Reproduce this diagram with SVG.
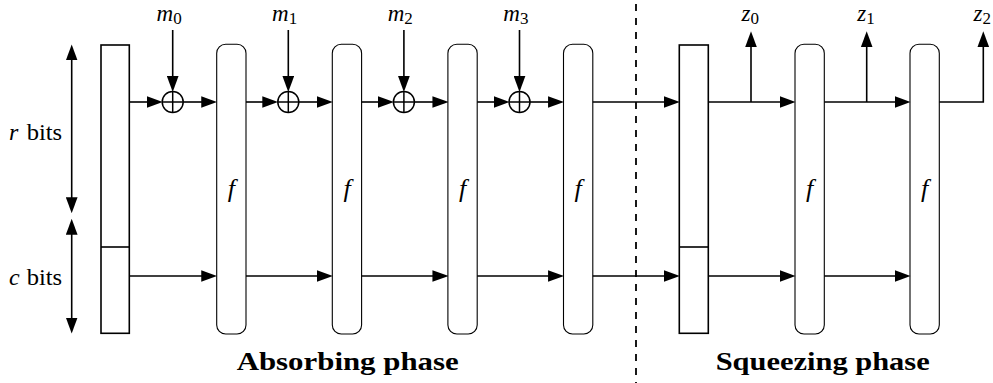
<svg xmlns="http://www.w3.org/2000/svg" width="993" height="383" viewBox="0 0 993 383">
  <style>
    .state { fill: #fff; stroke: #000; stroke-width: 1.6; }
    .perm { fill: #fff; stroke: #000; stroke-width: 1.1; }
    .wire { fill: none; stroke: #000; stroke-width: 1.6; }
    .arr { marker-end: url(#head); }
    .xor circle, .xor line { fill: none; stroke: #000; stroke-width: 1.5; }
    .divider { stroke: #000; stroke-width: 1.8; stroke-dasharray: 7 7; }
    text { font-family: "Liberation Serif", "Times New Roman", serif; fill: #000; }
    .math { font-style: italic; font-size: 23px; }
    .sub { font-style: normal; font-size: 17px; }
    .fn { font-style: italic; font-size: 26px; text-anchor: middle; }
    .side { font-size: 24px; }
    .phase { font-weight: bold; font-size: 26px; }
  </style>
  <defs>
    <marker id="head" markerUnits="userSpaceOnUse" markerWidth="16" markerHeight="12" viewBox="0 0 15 11" refX="7" refY="5.5" orient="auto-start-reverse">
      <path d="M0,0 L15,5.5 L0,11 Z" fill="#000"/>
    </marker>
  </defs>

  <!-- size braces for rate / capacity -->
  <g id="size-arrows">
    <line class="wire" x1="71.7" y1="53" x2="71.7" y2="204.7" marker-start="url(#head)" marker-end="url(#head)"/>
    <line class="wire" x1="71.7" y1="227.3" x2="71.7" y2="325" marker-start="url(#head)" marker-end="url(#head)"/>
    <text class="side" y="140"><tspan font-style="italic" x="9">r</tspan><tspan x="26.7" textLength="35.5" lengthAdjust="spacingAndGlyphs">bits</tspan></text>
    <text class="side" y="285"><tspan font-style="italic" x="9">c</tspan><tspan x="26.7" textLength="35.5" lengthAdjust="spacingAndGlyphs">bits</tspan></text>
  </g>

  <!-- initial state -->
  <g id="state-in">
    <rect class="state" x="101" y="45" width="28.3" height="288.3"/>
    <line class="state" x1="101" y1="247" x2="129.3" y2="247"/>
  </g>

  <!-- state entering the squeezing phase -->
  <g id="state-mid">
    <rect class="state" x="679.3" y="45" width="29" height="288.3"/>
    <line class="state" x1="679.3" y1="247" x2="708.3" y2="247"/>
  </g>

  <!-- permutation blocks -->
  <g id="f1"><rect class="perm" x="216.7" y="44.3" width="29.3" height="289.7" rx="9"/><text class="fn" x="231.3" y="197">f</text></g>
  <g id="f2"><rect class="perm" x="332.3" y="44.3" width="29.3" height="289.7" rx="9"/><text class="fn" x="347" y="197">f</text></g>
  <g id="f3"><rect class="perm" x="447.9" y="44.3" width="29.3" height="289.7" rx="9"/><text class="fn" x="462.5" y="197">f</text></g>
  <g id="f4"><rect class="perm" x="563.5" y="44.3" width="29.3" height="289.7" rx="9"/><text class="fn" x="578.1" y="197">f</text></g>
  <g id="f5"><rect class="perm" x="795" y="44.3" width="29.3" height="289.7" rx="9"/><text class="fn" x="809.6" y="197">f</text></g>
  <g id="f6"><rect class="perm" x="910" y="44.3" width="29.3" height="289.7" rx="9"/><text class="fn" x="924.6" y="197">f</text></g>

  <!-- xor gates -->
  <g id="xor0" class="xor"><circle cx="172.7" cy="102" r="10.5"/><line x1="162.2" y1="102" x2="183.2" y2="102"/><line x1="172.7" y1="91.5" x2="172.7" y2="112.5"/></g>
  <g id="xor1" class="xor"><circle cx="288.3" cy="102" r="10.5"/><line x1="277.8" y1="102" x2="298.8" y2="102"/><line x1="288.3" y1="91.5" x2="288.3" y2="112.5"/></g>
  <g id="xor2" class="xor"><circle cx="403.9" cy="102" r="10.5"/><line x1="393.4" y1="102" x2="414.4" y2="102"/><line x1="403.9" y1="91.5" x2="403.9" y2="112.5"/></g>
  <g id="xor3" class="xor"><circle cx="519.5" cy="102" r="10.5"/><line x1="509" y1="102" x2="530" y2="102"/><line x1="519.5" y1="91.5" x2="519.5" y2="112.5"/></g>

  <!-- message blocks -->
  <g id="m0"><text class="math" x="156.5" y="20.5">m<tspan class="sub" dy="3">0</tspan></text></g>
  <g id="m1"><text class="math" x="272.1" y="20.5">m<tspan class="sub" dy="3">1</tspan></text></g>
  <g id="m2"><text class="math" x="387.7" y="20.5">m<tspan class="sub" dy="3">2</tspan></text></g>
  <g id="m3"><text class="math" x="503.3" y="20.5">m<tspan class="sub" dy="3">3</tspan></text></g>

  <!-- output blocks -->
  <g id="z0"><text class="math" x="741.5" y="20.5">z<tspan class="sub" dy="3">0</tspan></text></g>
  <g id="z1"><text class="math" x="857.2" y="20.5">z<tspan class="sub" dy="3">1</tspan></text></g>
  <g id="z2"><text class="math" x="973.6" y="20.5">z<tspan class="sub" dy="3">2</tspan></text></g>

  <!-- wiring -->
  <g id="connectors">
    <!-- message inputs -->
    <line class="wire arr" x1="172.7" y1="30" x2="172.7" y2="83.5"/>
    <line class="wire arr" x1="288.3" y1="30" x2="288.3" y2="83.5"/>
    <line class="wire arr" x1="403.9" y1="30" x2="403.9" y2="83.5"/>
    <line class="wire arr" x1="519.5" y1="30" x2="519.5" y2="83.5"/>
    <!-- rate lane -->
    <line class="wire arr" x1="129.3" y1="102" x2="154.2" y2="102"/>
    <line class="wire arr" x1="183.2" y1="102" x2="208.7" y2="102"/>
    <line class="wire arr" x1="246" y1="102" x2="269.8" y2="102"/>
    <line class="wire arr" x1="298.8" y1="102" x2="324.3" y2="102"/>
    <line class="wire arr" x1="361.6" y1="102" x2="385.4" y2="102"/>
    <line class="wire arr" x1="414.4" y1="102" x2="439.9" y2="102"/>
    <line class="wire arr" x1="477.2" y1="102" x2="501" y2="102"/>
    <line class="wire arr" x1="530" y1="102" x2="555.5" y2="102"/>
    <line class="wire arr" x1="592.8" y1="102" x2="671.3" y2="102"/>
    <line class="wire arr" x1="708.3" y1="102" x2="787" y2="102"/>
    <line class="wire arr" x1="824.3" y1="102" x2="902" y2="102"/>
    <!-- outputs -->
    <line class="wire arr" x1="751" y1="102" x2="751" y2="39.7"/>
    <line class="wire arr" x1="866.7" y1="102" x2="866.7" y2="39.7"/>
    <path class="wire arr" d="M939.3,102 H983.3 V39.7"/>
    <!-- capacity lane -->
    <line class="wire arr" x1="129.3" y1="276" x2="208.7" y2="276"/>
    <line class="wire arr" x1="246" y1="276" x2="324.3" y2="276"/>
    <line class="wire arr" x1="361.6" y1="276" x2="439.9" y2="276"/>
    <line class="wire arr" x1="477.2" y1="276" x2="555.5" y2="276"/>
    <line class="wire arr" x1="592.8" y1="276" x2="671.3" y2="276"/>
    <line class="wire arr" x1="708.3" y1="276" x2="787" y2="276"/>
    <line class="wire arr" x1="824.3" y1="276" x2="902" y2="276"/>
  </g>

  <!-- phase separator and captions -->
  <line class="divider" x1="636" y1="4" x2="636" y2="383"/>
  <text class="phase" x="236.7" y="370" textLength="222" lengthAdjust="spacingAndGlyphs">Absorbing phase</text>
  <text class="phase" x="715.7" y="370" textLength="214" lengthAdjust="spacingAndGlyphs">Squeezing phase</text>
</svg>
